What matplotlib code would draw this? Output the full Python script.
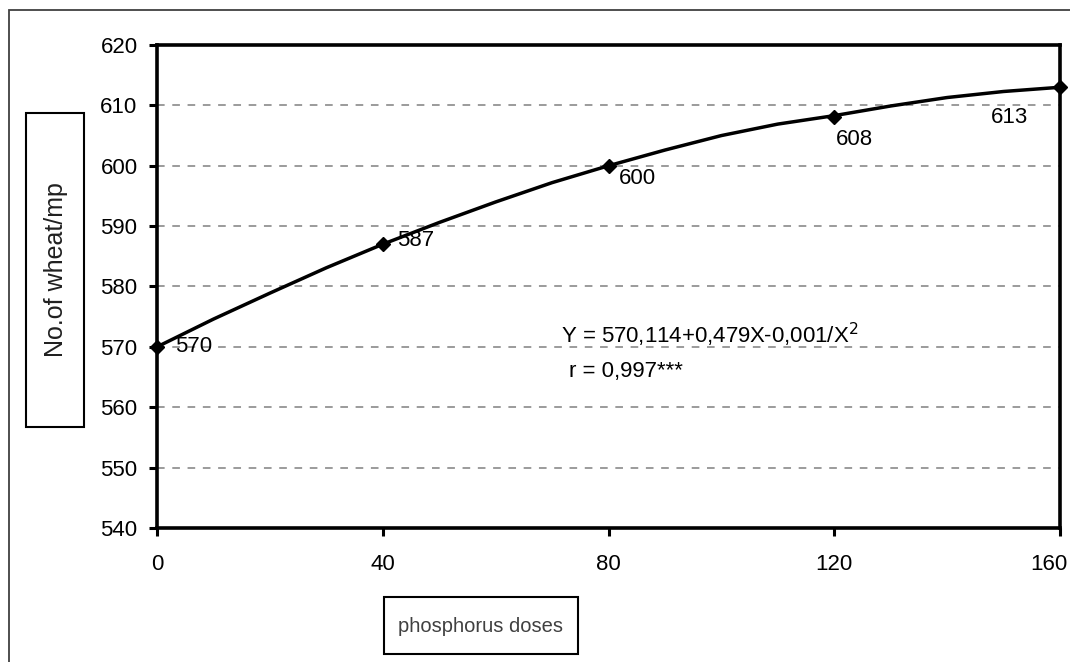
import matplotlib.pyplot as plt
from matplotlib.patches import Rectangle
from matplotlib.transforms import ScaledTranslation

# measured points (doses, wheat count)
doses = [0, 40, 80, 120, 160]
wheat = [570, 587, 600, 608, 613]
labels = ['570', '587', '600', '608', '613']

# smoothed curve
curve_x = [0, 10, 20, 30, 40, 50, 60, 70, 80, 90, 100, 110, 120, 130, 140, 150, 160]
curve_y = [570, 574.6, 578.9, 583.1, 587, 590.6, 594.0, 597.2, 600, 602.6, 605.0,
           606.9, 608.3, 609.9, 611.3, 612.3, 613]

yticks = [540, 550, 560, 570, 580, 590, 600, 610, 620]
xticks = [0, 40, 80, 120, 160]

plt.rcParams['font.family'] = ['Liberation Sans', 'DejaVu Sans']

fig = plt.figure(figsize=(10.7, 6.62), dpi=100)
ax = fig.add_axes([157/1070, 1 - 528/662, 903/1070, 483/662])

ax.plot(curve_x, curve_y, color='black', lw=2.5, zorder=3, clip_on=False)
ax.plot(doses, wheat, linestyle='none', marker='D', ms=7, color='black',
        zorder=4, clip_on=False)

# data labels, offsets in pixels
offsets = [(18, 0, 'left'), (14, 4, 'left'), (10, -13, 'left'),
           (2, -22, 'left'), (-32, -30, 'right')]
for x, y, t, (dx, dy, ha) in zip(doses, wheat, labels, offsets):
    ax.annotate(t, (x, y), xytext=(dx * 0.72, dy * 0.72), textcoords='offset points',
                ha=ha, va='center', fontsize=16, zorder=5)

ax.set_xlim(0, 160)
ax.set_ylim(540, 620)
ax.set_xticks(xticks)
ax.set_yticks(yticks)
ax.tick_params(axis='both', direction='out', length=6, width=2.2, labelsize=16)
ax.tick_params(axis='y', pad=8)
ax.tick_params(axis='x', pad=13)
for s in ax.spines.values():
    s.set_linewidth(2.6)
    s.set_color('black')

# last x label is pulled left so it stays inside the figure
last = ax.get_xticklabels()[-1]
last.set_transform(last.get_transform() + ScaledTranslation(-11/100, 0, fig.dpi_scale_trans))

for y in yticks[1:-1]:
    ax.axhline(y, color='#808080', lw=1.1, ls=(0, (5, 5)), zorder=1)

ax.text(71.5, 572.0, 'Y = 570,114+0,479X-0,001/X$^{2}$', fontsize=16, ha='left', va='center')
ax.text(73, 566.0, 'r = 0,997***', fontsize=16, ha='left', va='center')

# outer border (only left and top visible)
fig.patches.append(Rectangle((9/1070, -0.1), 1.2, 1 - 10/662 + 0.1,
                             transform=fig.transFigure, fill=False,
                             edgecolor='#404040', lw=1.3))

# y label box
fig.patches.append(Rectangle((26/1070, 1 - 427/662), 58/1070, 314/662,
                             transform=fig.transFigure, fill=False,
                             edgecolor='black', lw=1.5))
fig.text(56/1070, 1 - 270/662, 'No.of wheat/mp', rotation=90, ha='center', va='center',
         fontsize=18, color='#202020')

# x label box
fig.patches.append(Rectangle((384/1070, 1 - 654/662), 194/1070, 57/662,
                             transform=fig.transFigure, fill=False,
                             edgecolor='black', lw=1.5))
fig.text(481/1070, 1 - 626/662, 'phosphorus doses', ha='center', va='center',
         fontsize=14.5, color='#404040')

fig.savefig('out.png', dpi=100)
